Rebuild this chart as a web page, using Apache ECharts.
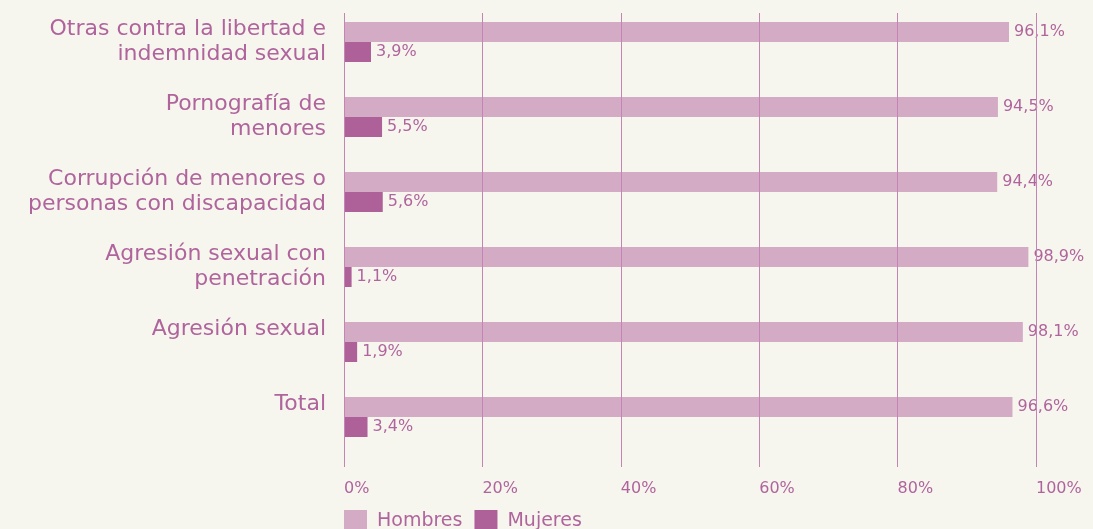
<!DOCTYPE html>
<html>
<head>
<meta charset="utf-8">
<script src="https://cdn.jsdelivr.net/npm/echarts@6/dist/echarts.min.js"></script>
<style>
  html, body { margin: 0; padding: 0; background: #f6f6ef; }
  #chart { width: 1093px; height: 529px; }
</style>
</head>
<body>
<div id="chart"></div>
<script>
const categories = [
  'Otras contra la libertad e\nindemnidad sexual',
  'Pornografía de\nmenores',
  'Corrupción de menores o\npersonas con discapacidad',
  'Agresión sexual con\npenetración',
  'Agresión sexual',
  'Total',
];
const hombres = [96.1, 94.5, 94.4, 98.9, 98.1, 96.6];
const mujeres = [3.9, 5.5, 5.6, 1.1, 1.9, 3.4];
const xTicks = [0, 20, 40, 60, 80, 100];

const textColor = '#b0649c';
const font = 'DejaVu Sans';

const pct = (p) => p.value.toFixed(1).replace('.', ',') + '%';

const chart = echarts.init(document.getElementById('chart'));
chart.setOption({
  backgroundColor: '#f6f6ef',
  animation: false,
  textStyle: { fontFamily: font },
  legend: {
    left: 339,
    top: 505,
    itemWidth: 23,
    itemHeight: 23,
    itemGap: 12,
    icon: 'rect',
    textStyle: { color: textColor, fontSize: 19, fontFamily: font, padding: [12, 0, 0, 5] },
    data: ['Hombres', 'Mujeres'],
  },
  grid: [
    // bars
    { left: 344, right: 57, top: 4.5, height: 450 },
    // grid lines + x labels
    { left: 344, right: 57, top: 13, height: 454 },
  ],
  xAxis: [
    { gridIndex: 0, type: 'value', min: 0, max: 100, show: false },
    {
      gridIndex: 1,
      type: 'value',
      min: xTicks[0],
      max: xTicks[xTicks.length - 1],
      interval: 20,
      z: 10,
      axisLine: { show: false },
      axisTick: { show: false },
      splitLine: { show: true, lineStyle: { color: '#c584b6', width: 1 } },
      axisLabel: {
        formatter: '{value}%',
        align: 'left',
        margin: 14,
        color: textColor,
        fontSize: 16,
        fontFamily: font,
      },
    },
  ],
  yAxis: [
    {
      gridIndex: 0,
      type: 'category',
      inverse: true,
      data: categories,
      axisLine: { show: false },
      axisTick: { show: false },
      splitLine: { show: false },
      axisLabel: {
        margin: 18,
        color: textColor,
        fontSize: 22,
        lineHeight: 25,
        fontFamily: font,
        // single-line names sit next to the upper bar
        formatter: (v) => (v.indexOf('\n') < 0 ? v + '\n ' : v),
      },
    },
    { gridIndex: 1, type: 'value', show: false },
  ],
  series: [
    {
      name: 'Hombres',
      type: 'bar',
      xAxisIndex: 0,
      yAxisIndex: 0,
      data: hombres,
      barWidth: 20,
      barGap: '0%',
      itemStyle: { color: '#d4abc5' },
      label: {
        show: true,
        position: 'right',
        distance: 5,
        formatter: pct,
        color: textColor,
        fontSize: 16,
        fontFamily: font,
      },
    },
    {
      name: 'Mujeres',
      type: 'bar',
      xAxisIndex: 0,
      yAxisIndex: 0,
      data: mujeres,
      barWidth: 20,
      barGap: '0%',
      itemStyle: { color: '#ad6198' },
      label: {
        show: true,
        position: 'right',
        distance: 5,
        formatter: pct,
        color: textColor,
        fontSize: 16,
        fontFamily: font,
      },
    },
  ],
});
</script>
</body>
</html>
